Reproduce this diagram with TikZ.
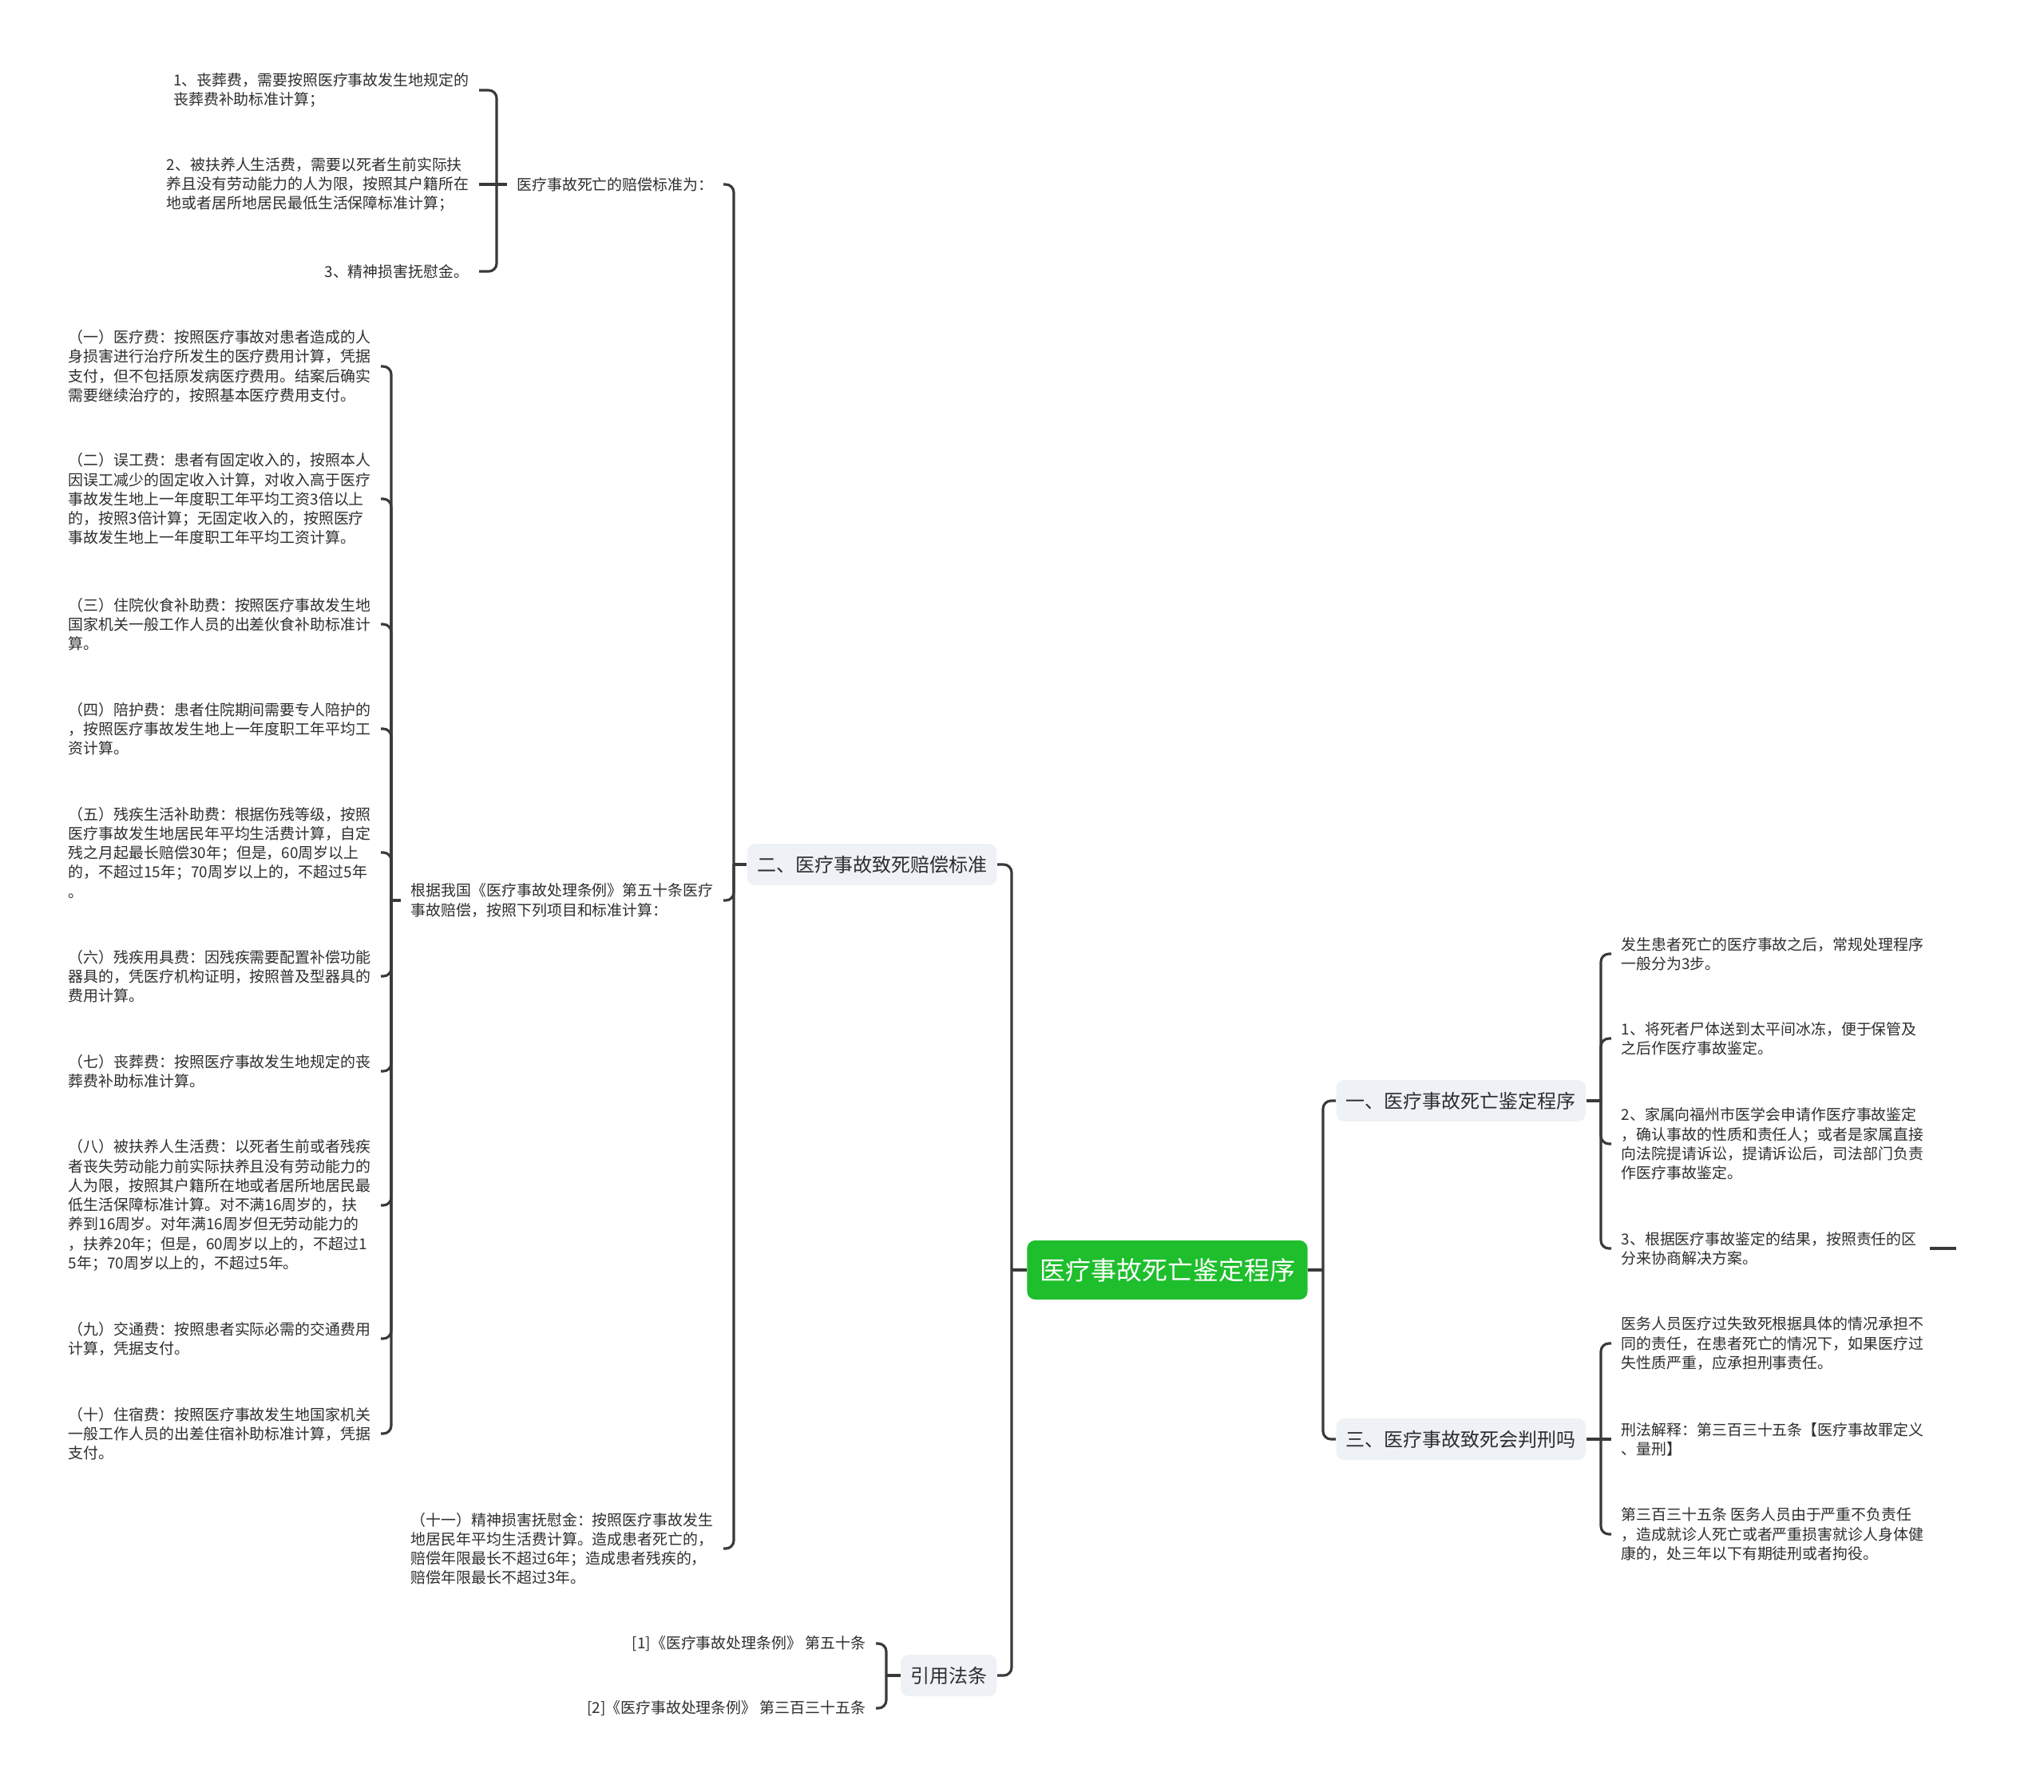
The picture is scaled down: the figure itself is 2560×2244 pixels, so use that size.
\documentclass[tikz,border=0pt]{standalone}
\usepackage{fontspec}
\usepackage{tikz}
\newfontfamily\cjkfont{Noto Sans CJK SC}
\definecolor{rootgreen}{HTML}{1EBE2C}
\definecolor{topicgray}{HTML}{EEF2F6}
\definecolor{linegray}{HTML}{3A3A3A}
\definecolor{textdark}{HTML}{2E2E2E}
\tikzstyle{link} = [draw=linegray, line width=0.9pt, rounded corners=0.1cm]

\begin{document}
\begin{tikzpicture}[x=0.01cm, y=-0.01cm,
centernode/.style={rectangle, fill=rootgreen, text=white, rounded corners=0.1cm, minimum width=3.51cm, minimum height=0.74cm, inner sep=0pt, font=\cjkfont\fontsize{9.1pt}{11pt}\selectfont},
topicnode/.style={rectangle, fill=topicgray, text=textdark, rounded corners=0.1cm, inner xsep=0.12cm, inner ysep=0pt, minimum height=0.52cm, font=\cjkfont\fontsize{6.83pt}{8pt}\selectfont},
leafnode/.style={text=textdark, align=left, inner xsep=0.12cm, inner ysep=0pt, font=\cjkfont\fontsize{5.38pt}{6.89pt}\selectfont}
]
\fill[white] (0,0) rectangle (2560,2244);
\useasboundingbox (0,0) rectangle (2560,2244);

\node[centernode] (root) at (1462,1591) {医疗事故死亡鉴定程序};
\node[topicnode, anchor=east] (comp) at (1249,1083) {二、医疗事故致死赔偿标准};
\node[topicnode, anchor=east] (laws) at (1249,2099) {引用法条};
\node[topicnode, anchor=west] (proc) at (1673,1379) {一、医疗事故死亡鉴定程序};
\node[topicnode, anchor=west] (crim) at (1673,1803) {三、医疗事故致死会判刑吗};

\coordinate (jl) at (1267,1591);
\coordinate (jr) at (1657,1591);
\coordinate (jcomp) at (919,1083);
\coordinate (jproc) at (2005,1379);
\coordinate (jcrim) at (2005,1803);
\coordinate (jlaws) at (1110,2099);
\coordinate (jstd) at (622,231);
\coordinate (jbasis) at (490,1128);

\node[leafnode, anchor=east] (std) at (906,231) {医疗事故死亡的赔偿标准为：};
\node[leafnode, anchor=east] (t1) at (600,113) {1、丧葬费，需要按照医疗事故发生地规定的\\丧葬费补助标准计算；};
\node[leafnode, anchor=east] (t2) at (600,231) {2、被扶养人生活费，需要以死者生前实际扶\\养且没有劳动能力的人为限，按照其户籍所在\\地或者居所地居民最低生活保障标准计算；};
\node[leafnode, anchor=east] (t3) at (600,340) {3、精神损害抚慰金。};

\node[leafnode, anchor=east] (basis) at (906,1128) {根据我国《医疗事故处理条例》第五十条医疗\\事故赔偿，按照下列项目和标准计算：};
\node[leafnode, anchor=east] (eleven) at (906,1940) {（十一）精神损害抚慰金：按照医疗事故发生\\地居民年平均生活费计算。造成患者死亡的，\\赔偿年限最长不超过6年；造成患者残疾的，\\赔偿年限最长不超过3年。};

\node[leafnode, anchor=east] (l1) at (477,459) {（一）医疗费：按照医疗事故对患者造成的人\\身损害进行治疗所发生的医疗费用计算，凭据\\支付，但不包括原发病医疗费用。结案后确实\\需要继续治疗的，按照基本医疗费用支付。};
\node[leafnode, anchor=east] (l2) at (477,625) {（二）误工费：患者有固定收入的，按照本人\\因误工减少的固定收入计算，对收入高于医疗\\事故发生地上一年度职工年平均工资3倍以上\\的，按照3倍计算；无固定收入的，按照医疗\\事故发生地上一年度职工年平均工资计算。};
\node[leafnode, anchor=east] (l3) at (477,782) {（三）住院伙食补助费：按照医疗事故发生地\\国家机关一般工作人员的出差伙食补助标准计\\算。};
\node[leafnode, anchor=east] (l4) at (477,913) {（四）陪护费：患者住院期间需要专人陪护的\\，按照医疗事故发生地上一年度职工年平均工\\资计算。};
\node[leafnode, anchor=east] (l5) at (477,1068) {（五）残疾生活补助费：根据伤残等级，按照\\医疗事故发生地居民年平均生活费计算，自定\\残之月起最长赔偿30年；但是，60周岁以上\\的，不超过15年；70周岁以上的，不超过5年\\。};
\node[leafnode, anchor=east] (l6) at (477,1223) {（六）残疾用具费：因残疾需要配置补偿功能\\器具的，凭医疗机构证明，按照普及型器具的\\费用计算。};
\node[leafnode, anchor=east] (l7) at (477,1342) {（七）丧葬费：按照医疗事故发生地规定的丧\\葬费补助标准计算。};
\node[leafnode, anchor=east] (l8) at (477,1510) {（八）被扶养人生活费：以死者生前或者残疾\\者丧失劳动能力前实际扶养且没有劳动能力的\\人为限，按照其户籍所在地或者居所地居民最\\低生活保障标准计算。对不满16周岁的，扶\\养到16周岁。对年满16周岁但无劳动能力的\\，扶养20年；但是，60周岁以上的，不超过1\\5年；70周岁以上的，不超过5年。};
\node[leafnode, anchor=east] (l9) at (477,1677) {（九）交通费：按照患者实际必需的交通费用\\计算，凭据支付。};
\node[leafnode, anchor=east] (l10) at (477,1796) {（十）住宿费：按照医疗事故发生地国家机关\\一般工作人员的出差住宿补助标准计算，凭据\\支付。};

\node[leafnode, anchor=west] (r1) at (2018,1195) {发生患者死亡的医疗事故之后，常规处理程序\\一般分为3步。};
\node[leafnode, anchor=west] (r2) at (2018,1301) {1、将死者尸体送到太平间冰冻，便于保管及\\之后作医疗事故鉴定。};
\node[leafnode, anchor=west] (r3) at (2018,1433) {2、家属向福州市医学会申请作医疗事故鉴定\\，确认事故的性质和责任人；或者是家属直接\\向法院提请诉讼，提请诉讼后，司法部门负责\\作医疗事故鉴定。};
\node[leafnode, anchor=west] (r4) at (2018,1564) {3、根据医疗事故鉴定的结果，按照责任的区\\分来协商解决方案。};
\coordinate (r4tail) at (2450,1564);

\node[leafnode, anchor=west] (s1) at (2018,1683) {医务人员医疗过失致死根据具体的情况承担不\\同的责任，在患者死亡的情况下，如果医疗过\\失性质严重，应承担刑事责任。};
\node[leafnode, anchor=west] (s2) at (2018,1803) {刑法解释：第三百三十五条【医疗事故罪定义\\、量刑】};
\node[leafnode, anchor=west] (s3) at (2018,1922) {第三百三十五条 医务人员由于严重不负责任\\，造成就诊人死亡或者严重损害就诊人身体健\\康的，处三年以下有期徒刑或者拘役。};

\node[leafnode, anchor=east] (ref1) at (1097,2059) {[1]《医疗事故处理条例》 第五十条};
\node[leafnode, anchor=east] (ref2) at (1097,2140) {[2]《医疗事故处理条例》 第三百三十五条};

\draw[link] (root.west) -- (jl);
\draw[link] (jl) |- (comp.east);
\draw[link] (jl) |- (laws.east);
\draw[link] (root.east) -- (jr);
\draw[link] (jr) |- (proc.west);
\draw[link] (jr) |- (crim.west);

\draw[link] (comp.west) -- (jcomp);
\foreach \c in {std,basis,eleven} \draw[link] (jcomp) |- (\c.east);
\draw[link] (std.west) -- (jstd);
\draw[link] (jstd) |- (t1.east);
\draw[link] (jstd) -- (t2.east);
\draw[link] (jstd) |- (t3.east);
\draw[link] (basis.west) -- (jbasis);
\foreach \i in {1,...,10} \draw[link] (jbasis) |- (l\i.east);

\draw[link] (proc.east) -- (jproc);
\foreach \i in {1,...,4} \draw[link] (jproc) |- (r\i.west);
\draw[link] ([xshift=0.04cm]r4.east) -- (r4tail);
\draw[link] (crim.east) -- (jcrim);
\draw[link] (jcrim) |- (s1.west);
\draw[link] (jcrim) -- (s2.west);
\draw[link] (jcrim) |- (s3.west);

\draw[link] (laws.west) -- (jlaws);
\foreach \i in {1,2} \draw[link] (jlaws) |- (ref\i.east);
\end{tikzpicture}
\end{document}
